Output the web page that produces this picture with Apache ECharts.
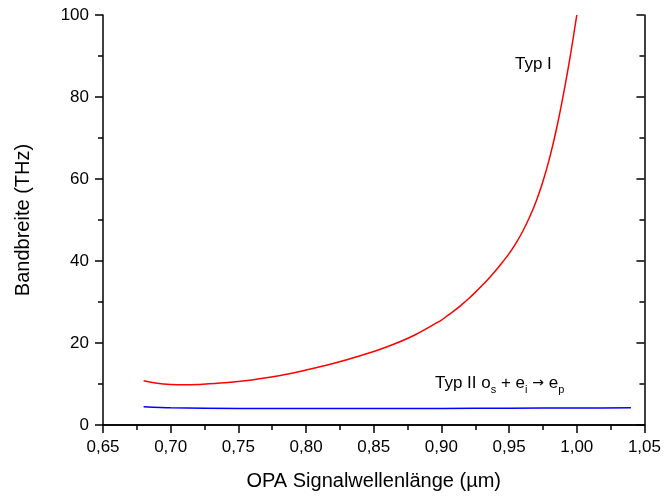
<!DOCTYPE html>
<html>
<head>
<meta charset="utf-8">
<script src="https://cdn.jsdelivr.net/npm/echarts@6/dist/echarts.min.js"></script>
<style>html,body{margin:0;padding:0;background:#fff;}#c{width:664px;height:498px;}</style>
</head>
<body>
<div id="c"></div>
<script>
var typIX = [0.68,0.69,0.70,0.71,0.72,0.74,0.76,0.78,0.80,0.82,0.84,0.86,0.88,0.90,0.905,0.91,0.915,0.92,0.925,0.93,0.935,0.94,0.945,0.95,0.955,0.96,0.965,0.97,0.975,0.98,0.985,0.99,0.995,1.0];
var typIY = [10.8,10.2,9.9,9.8,9.9,10.3,11.0,12.0,13.4,15.0,16.9,19.1,21.9,25.6,26.8,28.0,29.35,30.8,32.35,34.0,35.75,37.6,39.65,41.8,44.3,47.2,50.6,54.6,59.4,65.2,72.2,80.4,89.6,100];
var typIIX = [0.68,0.70,0.75,0.80,0.85,0.90,0.95,1.00,1.04];
var typIIY = [4.45,4.2,4.0,4.0,4.0,4.05,4.1,4.15,4.2];
var xTicks = {min:0.65, max:1.05, interval:0.05};
var yTicks = {min:0, max:100, interval:20};

function pairs(xs, ys){ return xs.map(function(x,i){return [x, ys[i]];}); }

var font = 'Liberation Sans, Arial, sans-serif';
var chart = echarts.init(document.getElementById('c'), null, {renderer:'canvas'});
var axLine = {lineStyle:{color:'#000', width:1.5}};
chart.setOption({
  animation:false,
  backgroundColor:'#fff',
  grid:{left:103, right:18, top:15, bottom:73, containLabel:false},
  xAxis:[{
    type:'value', min:xTicks.min, max:xTicks.max, interval:xTicks.interval, position:'bottom',
    name:'OPA Signalwellenlänge (µm)', nameLocation:'middle', nameGap:46,
    nameTextStyle:{fontFamily:font, fontSize:20, color:'#000'},
    axisLine:axLine,
    axisTick:{show:true, inside:false, length:8, lineStyle:{color:'#000', width:1.5}},
    minorTick:{show:true, splitNumber:2, length:5, lineStyle:{color:'#000', width:1.5}},
    axisLabel:{fontFamily:font, fontSize:17, color:'#000', margin:14,
      formatter:function(v){return v.toFixed(2).replace('.', ',');}},
    splitLine:{show:false}
  },{
    type:'value', min:xTicks.min, max:xTicks.max, interval:xTicks.interval, position:'top',
    axisLine:axLine,
    axisTick:{show:true, inside:true, length:8, lineStyle:{color:'#000', width:1.5}},
    minorTick:{show:true, splitNumber:2, length:5, lineStyle:{color:'#000', width:1.5}},
    axisLabel:{show:false}, splitLine:{show:false}
  }],
  yAxis:[{
    type:'value', min:yTicks.min, max:yTicks.max, interval:yTicks.interval, position:'left',
    name:'Bandbreite (THz)', nameLocation:'middle', nameGap:70, nameRotate:90,
    nameTextStyle:{fontFamily:font, fontSize:20, color:'#000'},
    axisLine:axLine,
    axisTick:{show:true, inside:false, length:8, lineStyle:{color:'#000', width:1.5}},
    minorTick:{show:true, splitNumber:2, length:5, lineStyle:{color:'#000', width:1.5}},
    axisLabel:{fontFamily:font, fontSize:17, color:'#000', margin:14},
    splitLine:{show:false}
  },{
    type:'value', min:yTicks.min, max:yTicks.max, interval:yTicks.interval, position:'right',
    axisLine:axLine,
    axisTick:{show:true, inside:true, length:8, lineStyle:{color:'#000', width:1.5}},
    minorTick:{show:true, splitNumber:2, length:5, lineStyle:{color:'#000', width:1.5}},
    axisLabel:{show:false}, splitLine:{show:false}
  }],
  series:[{
    type:'line', name:'Typ I', data:pairs(typIX, typIY), showSymbol:false,
    smooth:0.4, clip:true,
    lineStyle:{color:'#ff0000', width:1.5}
  },{
    type:'line', name:'Typ II', data:pairs(typIIX, typIIY), showSymbol:false,
    smooth:0.25,
    lineStyle:{color:'#0000ff', width:1.5}
  }],
  graphic:[{
    type:'text', left:515, top:56,
    style:{text:'Typ I', fontFamily:font, fontSize:17, fill:'#000'}
  },{
    type:'text', left:435, top:375,
    style:{
      text:'Typ II o{s|s} + e{s|i} {a|→} e{s|p}',
      fontFamily:font, fontSize:17, fill:'#000',
      rich:{
        s:{fontFamily:font, fontSize:11, fill:'#000', padding:[12,0,0,0]},
        a:{fontFamily:'DejaVu Sans', fontSize:14, fill:'#000'}
      }
    }
  }]
});
</script>
</body>
</html>
